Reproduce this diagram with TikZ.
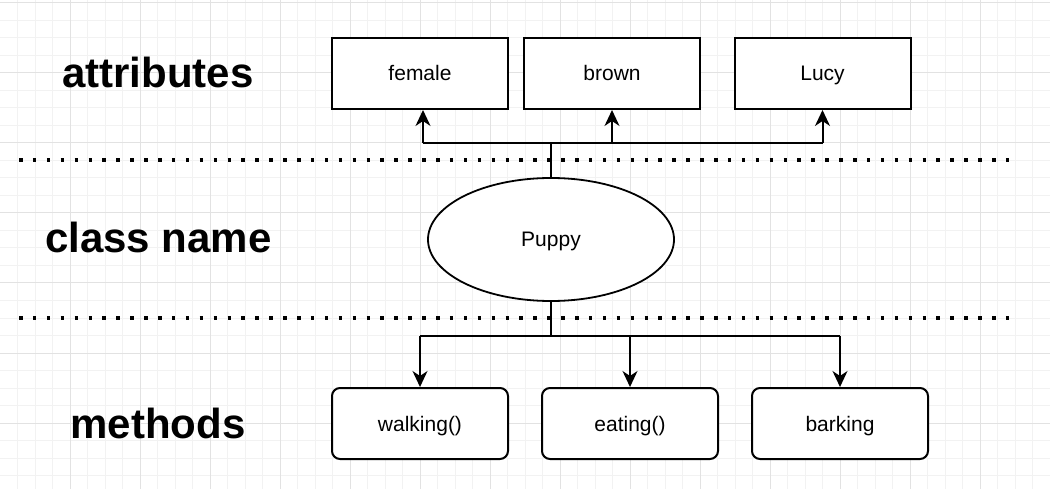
\documentclass[tikz,border=0pt]{standalone}
\usepackage{fontspec}
\setmainfont{Liberation Sans}
\usetikzlibrary{arrows.meta,shapes.geometric}
\definecolor{minorgrid}{HTML}{F2F2F2}
\definecolor{majorgrid}{HTML}{E2E2E2}
\begin{document}
\begin{tikzpicture}[x=1pt,y=-1pt,
  minorline/.style={draw=minorgrid,line width=1pt},
  majorline/.style={draw=majorgrid,line width=1pt},
  attrbox/.style={draw,line width=2pt,fill=white,minimum width=176pt,minimum height=71pt,inner sep=0pt,
     font=\fontsize{21}{25}\selectfont,text height=15pt,text depth=0pt},
  methbox/.style={attrbox,rounded corners=8pt},
  classell/.style={draw,ellipse,line width=1.8pt,fill=white,minimum width=246pt,minimum height=123pt,inner sep=0pt,
     font=\fontsize{21}{25}\selectfont,text height=15pt,text depth=0pt},
  biglabel/.style={inner sep=0pt,font=\fontsize{42}{50}\selectfont\bfseries,text height=30pt,text depth=0pt},
  conn/.style={line width=2pt},
  arr/.style={conn,-{Stealth[length=16pt,width=15pt,inset=5pt]}},
  dotline/.style={line width=3.5pt,dash pattern=on 3.5pt off 10.4pt}
]
\useasboundingbox (0,0) rectangle (1050,489);
\fill[white] (0,0) rectangle (1050,489);
% grid
\foreach \i in {1,...,59} { \draw[minorline] (\i*17.5,0) -- (\i*17.5,489); }
\foreach \j in {0,...,27} { \draw[minorline] (0,3+\j*17.5) -- (1050,3+\j*17.5); }
\foreach \i in {1,...,15} { \draw[majorline] (\i*70,0) -- (\i*70,489); }
\foreach \j in {0,...,6} { \draw[majorline] (0,3+\j*70) -- (1050,3+\j*70); }

% separators
\coordinate (d1a) at (19,160);
\coordinate (d1b) at (1018,160);
\coordinate (d2a) at (19,318);
\coordinate (d2b) at (1018,318);
\draw[dotline] (d1a) -- (d1b);
\draw[dotline] (d2a) -- (d2b);

% labels
\node[biglabel] (lattr) at (158,73) {attributes};
\node[biglabel] (lclass) at (158.5,238) {class name};
\node[biglabel] (lmeth) at (158,423) {methods};

% nodes
\node[attrbox] (female) at (420,73.5) {female};
\node[attrbox] (brown) at (612,73.5) {brown};
\node[attrbox] (lucy) at (822.5,73.5) {Lucy};
\node[classell] (puppy) at (551,239.5) {Puppy};
\node[methbox] (walking) at (420,423.5) {walking()};
\node[methbox] (eating) at (630,423.5) {eating()};
\node[methbox] (barking) at (840,423.5) {barking};

% connectors
\coordinate (jt) at (551,143.5);
\coordinate (jb) at (551,336);
\coordinate (jfem) at (423,143.5);
\coordinate (jbro) at (612,143.5);
\coordinate (jluc) at (822.5,143.5);
\coordinate (jwal) at (420,336);
\coordinate (jeat) at (630,336);
\coordinate (jbar) at (840,336);
\draw[conn] (puppy.north) -- (jt);
\draw[conn] (jfem) -- (jluc);
\draw[arr] (jfem) -- ([xshift=3pt]female.south);
\draw[arr] (jbro) -- (brown.south);
\draw[arr] (jluc) -- (lucy.south);
\draw[conn] (puppy.south) -- (jb);
\draw[conn] (jwal) -- (jbar);
\draw[arr] (jwal) -- (walking.north);
\draw[arr] (jeat) -- (eating.north);
\draw[arr] (jbar) -- (barking.north);
\end{tikzpicture}
\end{document}
